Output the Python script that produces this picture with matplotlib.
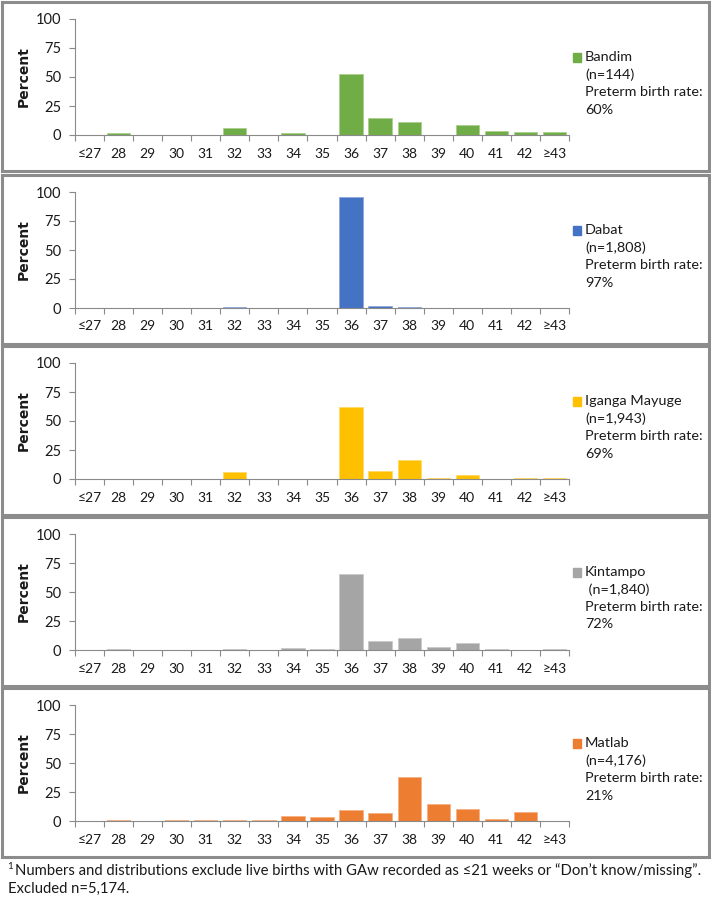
import matplotlib
matplotlib.use('Agg')
import matplotlib.pyplot as plt
from matplotlib.patches import Rectangle

plt.rcParams['font.family'] = ['Lato', 'DejaVu Sans']

weeks = ['≤27', '28', '29', '30', '31', '32', '33', '34', '35', '36',
         '37', '38', '39', '40', '41', '42', '≥43']

bandim = [0, 1.3, 0, 0, 0, 5.7, 0, 1.3, 0, 53, 14.3, 11.2, 0, 8.8, 3.4, 2.8, 2.2]
dabat = [0, 0, 0, 0, 0, 0.5, 0, 0, 0, 95.7, 1.4, 1.1, 0.2, 0, 0, 0, 0]
iganga = [0.4, 0.4, 0, 0, 0, 5.8, 0, 0, 0, 62, 7.2, 16.5, 1.2, 3.5, 0, 1.0, 0.6]
kintampo = [0.2, 1.2, 0.2, 0.4, 0.2, 1.2, 0.2, 1.7, 0.5, 65.2, 7.8, 10, 2.9, 5.7, 0.8, 0.3, 0.5]
matlab = [0, 0.5, 0.2, 0.5, 0.5, 1.0, 0.8, 4.0, 3.2, 9.7, 6.9, 37.8, 14.3, 10.3, 1.4, 7.4, 0]

sites = ['Bandim', 'Dabat', 'Iganga Mayuge', 'Kintampo', 'Matlab']
sizes = ['(n=144)', '(n=1,808)', '(n=1,943)', ' (n=1,840)', '(n=4,176)']
preterm = ['60%', '97%', '69%', '72%', '21%']
colors = ['#70AD47', '#4472C4', '#FFC000', '#A5A5A5', '#ED7D31']
edges = ['#A9D08E', '#8EA9DB', '#FFD966', '#C9C9C9', '#F4B183']
series = [bandim, dabat, iganga, kintampo, matlab]

W, H = 711, 905
fig = plt.figure(figsize=(W / 100, H / 100), dpi=100)
txt = '#1a1a1a'
axcol = '#8a8a8a'

panel_tops = [2, 175, 346, 517, 688]
panel_h = 169

for i, vals in enumerate(series):
    top = panel_tops[i]
    # grey frame round each panel
    fig.add_artist(Rectangle((2 / W, 1 - (top + panel_h) / H), 707 / W, panel_h / H,
                             transform=fig.transFigure, fill=False, ec='#8c8c8c', lw=2.2))
    ax = fig.add_axes([75 / W, 1 - (top + 133) / H, 494 / W, 116 / H])
    ax.bar(range(len(weeks)), vals, width=0.8, color=colors[i], edgecolor=edges[i], lw=0.6)
    ax.set_xlim(-0.5, len(weeks) - 0.5)
    ax.set_ylim(0, 100)
    ax.set_yticks([0, 25, 50, 75, 100])
    ax.set_xticks(range(len(weeks)))
    ax.set_xticklabels(weeks)
    ax.set_xticks([k - 0.5 for k in range(len(weeks) + 1)], minor=True)
    ax.tick_params(axis='x', which='major', length=0, pad=9, labelsize=10, labelcolor=txt)
    ax.tick_params(axis='x', which='minor', length=4, color=axcol, width=0.8)
    ax.tick_params(axis='y', length=4, color=axcol, width=0.8, labelsize=10.5, labelcolor=txt, pad=6)
    for s in ['top', 'right']:
        ax.spines[s].set_visible(False)
    for s in ['left', 'bottom']:
        ax.spines[s].set_color(axcol)
        ax.spines[s].set_linewidth(0.8)
    ax.set_ylabel('Percent', fontsize=10, fontweight='bold', family='DejaVu Sans', color=txt)
    ax.yaxis.set_label_coords(-0.089, 0.5)

    # legend block on the right
    fig.add_artist(Rectangle((573 / W, 1 - (top + 60) / H), 8 / W, 9 / H,
                             transform=fig.transFigure, color=colors[i]))
    lines = [sites[i], sizes[i], 'Preterm birth rate:', preterm[i]]
    for j, line in enumerate(lines):
        fig.text(585 / W, 1 - (top + 55 + 17.5 * j) / H, line, fontsize=10.4,
                 color=txt, va='center', ha='left')

fig.text(7 / W, 1 - 866 / H, '1', fontsize=7, color=txt, va='center')
fig.text(15 / W, 1 - 871 / H,
         'Numbers and distributions exclude live births with GAw recorded as ≤21 weeks or “Don’t know/missing”.',
         fontsize=10.7, color=txt, va='center')
fig.text(8 / W, 1 - 889 / H, 'Excluded n=5,174.', fontsize=10.7, color=txt, va='center')

fig.savefig('out.png', dpi=100)
